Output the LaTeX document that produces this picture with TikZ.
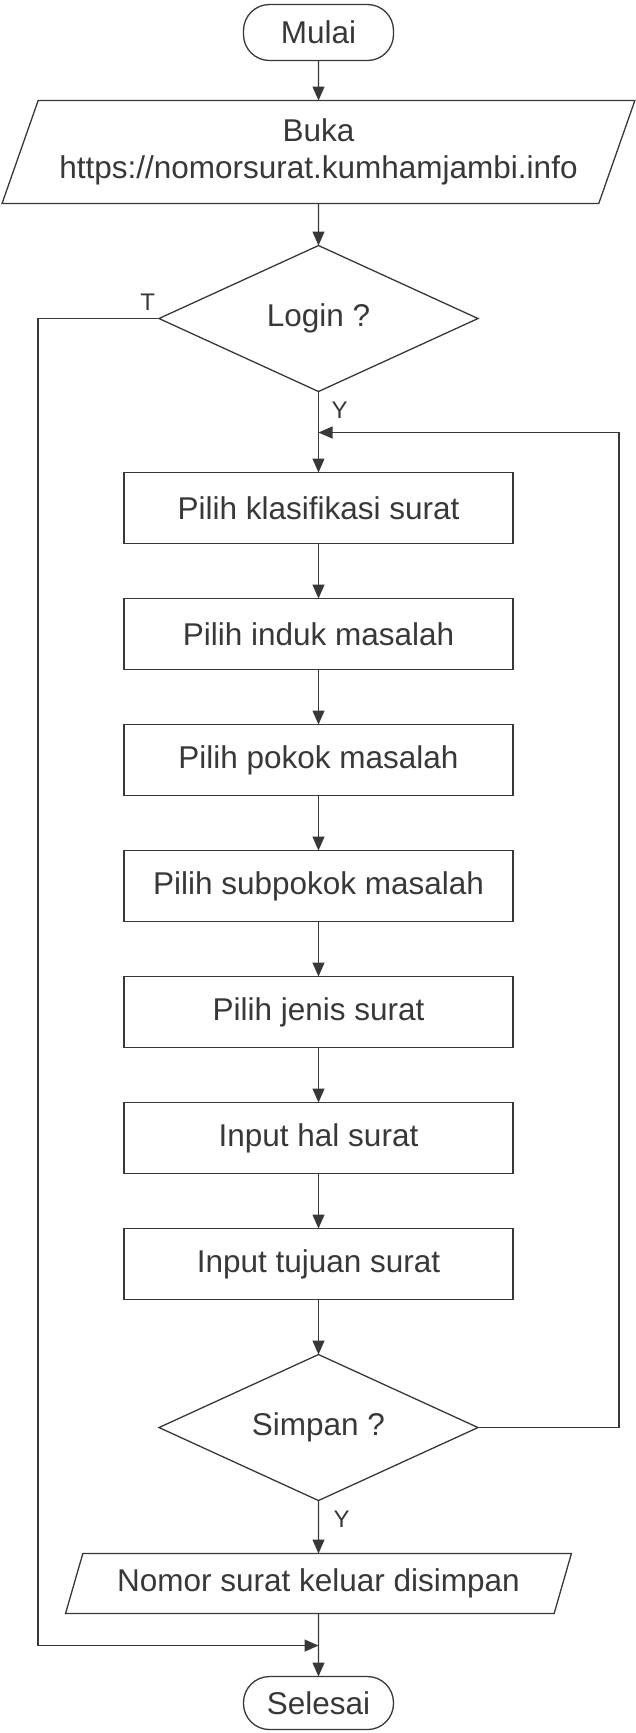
\documentclass[tikz,border=0pt]{standalone}
\usepackage{fontspec}
\setmainfont{Liberation Sans}
\usetikzlibrary{arrows.meta,positioning,shapes.geometric}

\begin{document}
\begin{tikzpicture}[x=1pt,y=1pt,color=black!78,line width=1.3pt, every node/.style={font=\fontsize{31.5}{37}\selectfont,inner sep=0pt,outer sep=0pt}, term/.style={draw,rounded corners=26pt,minimum width=150pt,minimum height=56pt}, io/.style={draw,trapezium,trapezium left angle=63.3,trapezium right angle=116.7,trapezium stretches=true,align=center}, dec/.style={draw,diamond,aspect=2.2,minimum width=319pt,minimum height=146pt}, box/.style={draw,minimum width=389pt,minimum height=71pt}, arr/.style={-{Triangle[length=14pt,width=12pt]}}, lbl/.style={font=\fontsize{24}{28}\selectfont}]
\useasboundingbox (0,0) rectangle (636,-1733);
\node[term] (mulai) at (318.5,-32.5) {Mulai};
\node[io,minimum width=633pt,minimum height=103pt,below=40pt of mulai] (buka) {Buka\\https://nomorsurat.kumhamjambi.info};
\node[dec,below=42pt of buka] (login) {Login ?};
\node[box,below=81pt of login] (klas) {Pilih klasifikasi surat};
\node[box,below=55pt of klas] (induk) {Pilih induk masalah};
\node[box,below=55pt of induk] (pokok) {Pilih pokok masalah};
\node[box,below=55pt of pokok] (subpokok) {Pilih subpokok masalah};
\node[box,below=55pt of subpokok] (jenis) {Pilih jenis surat};
\node[box,below=55pt of jenis] (hal) {Input hal surat};
\node[box,below=55pt of hal] (tujuan) {Input tujuan surat};
\node[dec,below=55pt of tujuan] (simpan) {Simpan ?};
\node[io,minimum width=508pt,minimum height=60pt,below=53pt of simpan] (nomor) {Nomor surat keluar disimpan};
\node[term,minimum height=53pt,below=63pt of nomor] (selesai) {Selesai};
\coordinate[below=41pt of login.south] (jy); \coordinate[below=32pt of nomor.south] (mrg);
\node[lbl,above left=8pt and 4pt of login.west] (t) {T};
\node[lbl,below right=10pt and 13pt of login.south] (y1) {Y};
\node[lbl,below right=10pt and 15pt of simpan.south] (y2) {Y};
\draw[arr] (mulai)--(buka);\draw[arr] (buka)--(login);\draw[arr] (login)--(klas);\draw[arr] (klas)--(induk);
\draw[arr] (induk)--(pokok);\draw[arr] (pokok)--(subpokok);\draw[arr] (subpokok)--(jenis);\draw[arr] (jenis)--(hal);
\draw[arr] (hal)--(tujuan);\draw[arr] (tujuan)--(simpan);\draw[arr] (simpan)--(nomor);\draw[arr] (nomor)--(selesai);
\draw[arr] (simpan.east) -- ++(141,0) |- (jy);
\draw[arr] (login.west) -- ++(-121,0) |- (mrg);
\end{tikzpicture}
\end{document}
